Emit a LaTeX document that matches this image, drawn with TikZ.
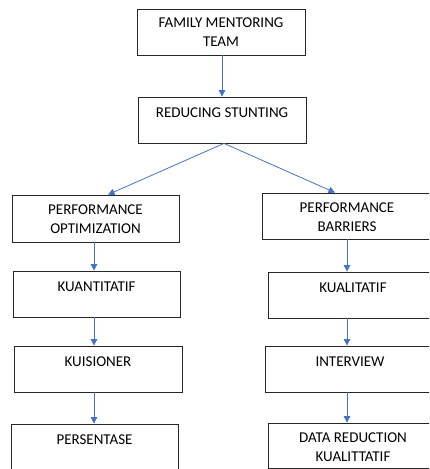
\documentclass[tikz,border=0pt]{standalone}
\usepackage{fontspec}
\setmainfont{Carlito}
\usetikzlibrary{arrows.meta, positioning, calc}

\definecolor{arrowblue}{HTML}{4472C4}
\newcommand{\toptext}[3][46pt]{\parbox[c][#1][t]{160pt}{\centering\rule{0pt}{#2}#3}}

\tikzset{
  stepbox/.style={draw=black!85, line width=0.8pt, rectangle, inner sep=0pt, minimum width=168pt, font=\fontsize{15}{19}\selectfont},
  flow/.style={draw=arrowblue, line width=0.8pt, -{Triangle[width=6.5pt,length=6.5pt]}}
}

\begin{document}
\begin{tikzpicture}[x=1pt, y=1pt]
  \useasboundingbox (0,0) rectangle (429,-469);
  \clip (0,0) rectangle (429,-469);

  % Main boxes
  \node[stepbox] (team) at (221,-32) {\toptext{18.7pt}{FAMILY MENTORING\\TEAM}};
  \node[stepbox] (reduce) at (222,-120) {\toptext{20.7pt}{REDUCING STUNTING}};

  % Left column
  \node[stepbox, minimum width=167pt] (optim) at (95.5,-218.5) {\toptext[47pt]{19.7pt}{PERFORMANCE\\OPTIMIZATION}};
  \node[stepbox, minimum width=167pt] (kuanti) at (96.5,-294) {\toptext{20.7pt}{KUANTITATIF}};
  \node[stepbox] (kuision) at (98,-369) {\toptext{20.7pt}{KUISIONER}};
  \node[stepbox, minimum width=167pt] (persen) at (94.5,-447) {\toptext{20.7pt}{PERSENTASE}};

  % Right column
  \node[stepbox, minimum width=170pt] (barrier) at (347,-216) {\toptext{19.7pt}{PERFORMANCE\\BARRIERS}};
  \node[stepbox, minimum width=170pt] (kuali) at (353,-295) {\toptext{20.7pt}{KUALITATIF}};
  \node[stepbox, minimum width=170pt] (interview) at (350,-369) {\toptext{20.7pt}{INTERVIEW}};
  \node[stepbox, minimum width=170pt] (datared) at (353,-445.5) {\toptext[45pt]{19.7pt}{DATA REDUCTION\\KUALITTATIF}};

  \coordinate (lcol) at (94,0);
  \coordinate (rcol) at (347,0);

  % Arrows
  \draw[flow] (team.south -| reduce.south) -- (reduce.north);
  \draw[flow] ($(reduce.south)+(2,0)$) -- ($(optim.north)+(12.5,0)$);
  \draw[flow] ($(reduce.south)+(2,0)$) -- ($(barrier.north)+(-12,0)$);

  \draw[flow] (optim.south -| lcol) -- (kuanti.north -| lcol);
  \draw[flow] (kuanti.south -| lcol) -- (kuision.north -| lcol);
  \draw[flow] (kuision.south -| lcol) -- (persen.north -| lcol);

  \draw[flow] (barrier.south -| rcol) -- (kuali.north -| rcol);
  \draw[flow] (kuali.south -| rcol) -- (interview.north -| rcol);
  \draw[flow] (interview.south -| rcol) -- (datared.north -| rcol);
\end{tikzpicture}
\end{document}
